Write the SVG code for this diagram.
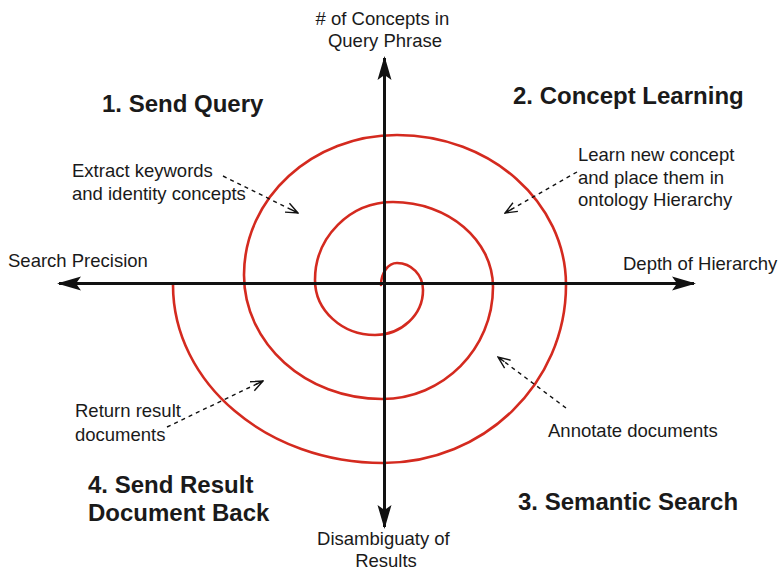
<svg xmlns="http://www.w3.org/2000/svg" width="780" height="570" viewBox="0 0 780 570">
  <style>
    .lbl { font-family: "Liberation Sans", Arial, sans-serif; font-size: 18.5px; fill: #1a1a1a; }
    .ttl { font-family: "Liberation Sans", Arial, sans-serif; font-size: 24px; font-weight: bold; fill: #1a1a1a; }
    .axis { stroke: #111; stroke-width: 3; fill: none; }
    .spiral { stroke: #d42a1f; stroke-width: 2.6; fill: none; stroke-linecap: round; }
    .note { stroke: #111; stroke-width: 1.4; stroke-dasharray: 4 4; fill: none; }
  </style>
  <defs>
    <marker id="axisHead" viewBox="0 0 24 16" refX="22" refY="8" markerWidth="24" markerHeight="16" markerUnits="userSpaceOnUse" orient="auto">
      <path d="M0,1 L24,8 L0,15 L5,8 Z" fill="#111"/>
    </marker>
    <marker id="openHead" viewBox="0 0 14 12" refX="13" refY="6" markerWidth="14" markerHeight="12" markerUnits="userSpaceOnUse" orient="auto">
      <path d="M1,1 L13,6 L1,11 M13,6 L5,6" stroke="#111" stroke-width="1.4" fill="none"/>
    </marker>
  </defs>

  <rect width="780" height="570" fill="#fff"/>

  <!-- spiral path -->
  <g id="spiral">
    <path class="spiral" d="M381,285 C381,272.9 388.2,263 397,263 C411.4,263 423,275.1 423,290 C423,314.8 401.5,335 375,335 C341.9,335 315,310.4 315,280 C315,236.9 349.9,202 393,202 C448.2,202 493,240.1 493,287 C493,348.8 443.3,399 382,399 C305.8,399 244,343.5 244,275 C244,197.7 312.5,135 397,135 C490.3,135 566,202.2 566,285 C566,383.3 484,463 383,463 C267.1,463 173,383.3 173,285"/>
  </g>

  <!-- axes and annotation leaders -->
  <g id="connectors">
    <line class="axis" x1="384.5" y1="283.5" x2="384.5" y2="58" marker-end="url(#axisHead)"/>
    <line class="axis" x1="384.5" y1="283.5" x2="384.5" y2="527" marker-end="url(#axisHead)"/>
    <line class="axis" x1="384.5" y1="283.5" x2="59" y2="283.5" marker-end="url(#axisHead)"/>
    <line class="axis" x1="384.5" y1="283.5" x2="694" y2="283.5" marker-end="url(#axisHead)"/>
    <line class="note" x1="223" y1="176" x2="298" y2="213" marker-end="url(#openHead)"/>
    <line class="note" x1="577" y1="172" x2="505" y2="213" marker-end="url(#openHead)"/>
    <line class="note" x1="566" y1="408" x2="498" y2="357" marker-end="url(#openHead)"/>
    <line class="note" x1="167" y1="427" x2="263" y2="381" marker-end="url(#openHead)"/>
  </g>

  <!-- axis labels -->
  <g id="axis-top">
    <text class="lbl" x="385" y="25" text-anchor="middle">
      <tspan x="385"># of Concepts in</tspan>
      <tspan x="385" dy="22">Query Phrase</tspan>
    </text>
  </g>
  <g id="axis-left">
    <text class="lbl" x="8" y="267">Search Precision</text>
  </g>
  <g id="axis-right">
    <text class="lbl" x="623" y="270">Depth of Hierarchy</text>
  </g>
  <g id="axis-bottom">
    <text class="lbl" x="386" y="545" text-anchor="middle">
      <tspan x="386">Disambiguaty of</tspan>
      <tspan x="386" dy="22">Results</tspan>
    </text>
  </g>

  <!-- phase titles -->
  <g id="phase-1"><text class="ttl" x="102" y="112">1. Send Query</text></g>
  <g id="phase-2"><text class="ttl" x="513" y="104">2. Concept Learning</text></g>
  <g id="phase-3"><text class="ttl" x="518" y="510">3. Semantic Search</text></g>
  <g id="phase-4">
    <text class="ttl" x="88" y="493">
      <tspan x="88">4. Send Result</tspan>
      <tspan x="88" dy="28">Document Back</tspan>
    </text>
  </g>

  <!-- step notes -->
  <g id="note-extract">
    <text class="lbl" x="72" y="177">
      <tspan x="72">Extract keywords</tspan>
      <tspan x="72" dy="23">and identity concepts</tspan>
    </text>
  </g>
  <g id="note-learn">
    <text class="lbl" x="578" y="161">
      <tspan x="578">Learn new concept</tspan>
      <tspan x="578" dy="22.5">and place them in</tspan>
      <tspan x="578" dy="22.5">ontology Hierarchy</tspan>
    </text>
  </g>
  <g id="note-annotate">
    <text class="lbl" x="548" y="437">Annotate documents</text>
  </g>
  <g id="note-return">
    <text class="lbl" x="75" y="417">
      <tspan x="75">Return result</tspan>
      <tspan x="75" dy="24">documents</tspan>
    </text>
  </g>
</svg>
